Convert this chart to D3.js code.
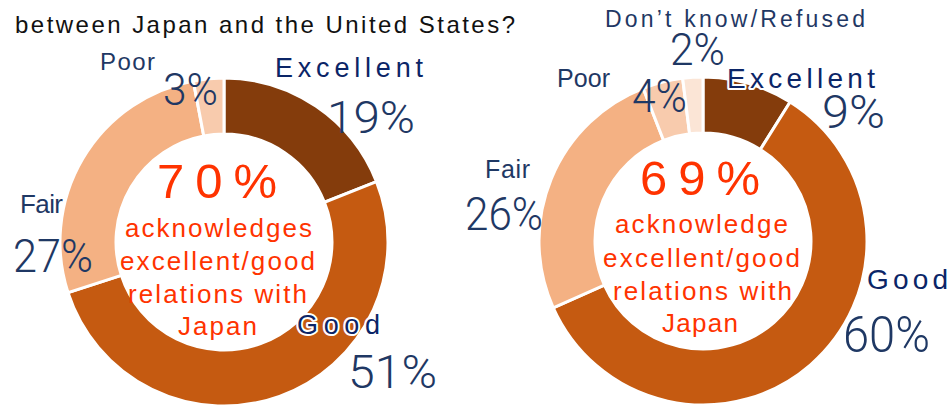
<!DOCTYPE html>
<html>
<head>
<meta charset="utf-8">
<script src="https://cdn.jsdelivr.net/npm/d3@7"></script>
<style>
  html, body { margin: 0; padding: 0; background: #fff; }
  svg { display: block; }
</style>
</head>
<body>
<svg id="chart" width="951" height="408"></svg>
<script>
// ---- data ----
const categories = ["Excellent", "Good", "Fair", "Poor", "Don\u2019t know/Refused"];
const leftValues = [19, 51, 27, 3, null];
const rightValues = [9, 60, 26, 4, 2];
const headlines = ["70%", "69%"];
const leftCenterLines = ["acknowledges", "excellent/good", "relations with", "Japan"];
const rightCenterLines = ["acknowledge", "excellent/good", "relations with", "Japan"];
const titleText = "between Japan and the United States?";

// ---- styles / layout ----
const colors = ["#843C0C", "#C55A11", "#F4B183", "#F8CBAD", "#FBE5D6"];
const navy = "#1F3864";
const navyDark = "#0B2567";
const red = "#FF3300";

const donuts = [
  { cx: 224, cy: 242, values: leftValues, headline: headlines[0], lines: leftCenterLines,
    head: { x: 157, y: 198, w: 120 },
    lineBox: [[125, 237, 187], [120, 270, 195], [128, 303, 179], [178, 335, 79]],
    // per category: [catX, catY, catW, catSize, pctX, pctY, pctW, pctSize, halo]
    labels: [
      [275, 77, 148, 27, 327, 133, 88, 44, false],
      [297, 334, 83, 27, 348, 388, 89, 47, true],
      [20, 213, 43, 26, 13, 272, 80, 46, false],
      [100, 70, 55, 24, 163, 105, 55, 44, false],
      null
    ] },
  { cx: 703, cy: 241, values: rightValues, headline: headlines[1], lines: rightCenterLines,
    head: { x: 640, y: 195, w: 120 },
    lineBox: [[615, 233, 173], [603, 267, 197], [613, 300, 179], [662, 332, 76]],
    labels: [
      [727, 88, 148, 28, 822, 128, 63, 47, true],
      [867, 289, 81, 28, 843, 352, 87, 50, false],
      [485, 178, 45, 25, 465, 230, 78, 47, false],
      [557, 87, 53, 25, 632, 112, 55, 46, false],
      [605, 27, 260, 23, 670, 65, 55, 44, false]
    ] }
];

const outerR = 164, innerR = 108;
const svg = d3.select("#chart");

// title
svg.append("text")
  .attr("x", 15).attr("y", 33)
  .attr("font-family", "Liberation Sans, Arial, sans-serif")
  .attr("font-size", 24)
  .attr("fill", "#111")
  .attr("textLength", 500)
  .attr("lengthAdjust", "spacing")
  .text(titleText);

const arc = d3.arc().innerRadius(innerR).outerRadius(outerR);
const pie = d3.pie().sort(null).value(d => d.value);

donuts.forEach(dn => {
  const data = categories.map((c, i) => ({ cat: c, value: dn.values[i], idx: i }))
    .filter(d => d.value != null);
  const g = svg.append("g").attr("transform", `translate(${dn.cx},${dn.cy})`);
  g.selectAll("path").data(pie(data)).join("path")
    .attr("d", arc)
    .attr("fill", d => colors[d.data.idx])
    .attr("stroke", "#fff")
    .attr("stroke-width", 3)
    .attr("stroke-linejoin", "miter");

  // center headline
  svg.append("text")
    .attr("x", dn.head.x).attr("y", dn.head.y)
    .attr("font-family", "Liberation Sans, Arial, sans-serif")
    .attr("font-size", 49)
    .attr("fill", red)
    .attr("textLength", dn.head.w)
    .attr("lengthAdjust", "spacing")
    .text(dn.headline);

  dn.lines.forEach((t, i) => {
    const b = dn.lineBox[i];
    svg.append("text")
      .attr("x", b[0]).attr("y", b[1])
      .attr("font-family", "Liberation Sans, Arial, sans-serif")
      .attr("font-size", 26)
      .attr("fill", red)
      .attr("textLength", b[2])
      .attr("lengthAdjust", "spacing")
      .text(t);
  });

  data.forEach(d => {
    const L = dn.labels[d.idx];
    if (!L) return;
    const isBig = d.idx <= 1;
    const cat = svg.append("text")
      .attr("x", L[0]).attr("y", L[1])
      .attr("font-family", "Liberation Sans, Arial, sans-serif")
      .attr("font-size", L[3])
      .attr("fill", isBig ? navyDark : navy)
      .attr("textLength", L[2])
      .attr("lengthAdjust", "spacing")
      .text(d.cat);
    if (L[8]) {
      cat.attr("stroke", "#fff").attr("stroke-width", 4)
        .attr("stroke-linejoin", "round").attr("paint-order", "stroke");
    }
    svg.append("text")
      .attr("x", L[4]).attr("y", L[5])
      .attr("font-family", "Roboto, Noto Sans, sans-serif")
      .attr("font-weight", 300)
      .attr("font-size", L[7])
      .attr("fill", navy)
      .attr("textLength", L[6])
      .attr("lengthAdjust", "spacingAndGlyphs")
      .text(d.value + "%");
  });
});
</script>
</body>
</html>
